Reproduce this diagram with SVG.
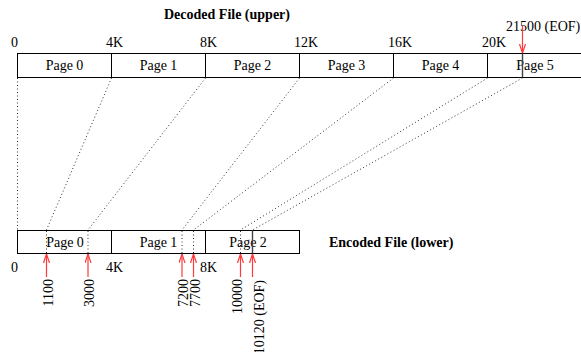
<svg xmlns="http://www.w3.org/2000/svg" width="581" height="352" viewBox="0 0 581 352">
  <style>
    text { font-family: "Liberation Serif", "Times New Roman", serif; font-size: 14px; fill: #000; }
    .title { font-weight: bold; }
    .mid { text-anchor: middle; }
    .box { fill: #fff; stroke: #000; stroke-width: 1; }
    .div { stroke: #000; stroke-width: 1; }
    .map { stroke: #000; stroke-width: 1; stroke-dasharray: 1 2.5; fill: none; opacity: 0.8; }
    .eof { stroke: #444; stroke-width: 1.4; }
    .ptr { stroke: #ff3a3a; stroke-width: 1.2; fill: none; marker-end: url(#head); }
  </style>
  <defs>
    <marker id="head" viewBox="0 0 9 7" refX="9" refY="3.5" markerWidth="9" markerHeight="7" markerUnits="userSpaceOnUse" orient="auto">
      <path d="M0,0.5 L9,3.5 L0,6.5" fill="none" stroke="#ff3a3a" stroke-width="1.2"/>
    </marker>
  </defs>

  <!-- Decoded (upper) file: six 4K pages -->
  <g id="decoded">
    <text class="title" x="164" y="19">Decoded File (upper)</text>
    <rect class="box" x="17.5" y="53.5" width="570" height="24"/>
    <line class="div" x1="111.5" y1="53.5" x2="111.5" y2="77.5"/>
    <line class="div" x1="205.5" y1="53.5" x2="205.5" y2="77.5"/>
    <line class="div" x1="299.5" y1="53.5" x2="299.5" y2="77.5"/>
    <line class="div" x1="393.5" y1="53.5" x2="393.5" y2="77.5"/>
    <line class="div" x1="487.5" y1="53.5" x2="487.5" y2="77.5"/>
    <text class="mid" x="64.5" y="70">Page 0</text>
    <text class="mid" x="158.5" y="70">Page 1</text>
    <text class="mid" x="252.5" y="70">Page 2</text>
    <text class="mid" x="346.5" y="70">Page 3</text>
    <text class="mid" x="440.5" y="70">Page 4</text>
    <text class="mid" x="535" y="70">Page 5</text>
    <text x="11" y="47">0</text>
    <text x="106" y="47">4K</text>
    <text x="200" y="47">8K</text>
    <text x="294" y="47">12K</text>
    <text x="388" y="47">16K</text>
    <text x="482" y="47">20K</text>
    <line class="eof" x1="522.5" y1="53.5" x2="522.5" y2="77.5"/>
    <text x="506" y="30.5">21500 (EOF)</text>
    <line class="ptr" x1="522.5" y1="26" x2="522.5" y2="53"/>
  </g>

  <!-- Encoded (lower) file: three 4K pages -->
  <g id="encoded">
    <text class="title" x="329" y="247">Encoded File (lower)</text>
    <rect class="box" x="17.5" y="230.5" width="282" height="23"/>
    <line class="div" x1="111.5" y1="230.5" x2="111.5" y2="253.5"/>
    <line class="div" x1="205.5" y1="230.5" x2="205.5" y2="253.5"/>
    <text class="mid" x="65" y="247">Page 0</text>
    <text class="mid" x="158.5" y="247">Page 1</text>
    <text class="mid" x="248" y="247">Page 2</text>
    <text x="11" y="272">0</text>
    <text x="106" y="272">4K</text>
    <text x="200" y="272">8K</text>
    <line class="eof" x1="252.5" y1="230.5" x2="252.5" y2="253.5"/>
  </g>

  <!-- Offset pointers into the encoded file -->
  <g id="offsets">
    <line class="ptr" x1="46.5" y1="277" x2="46.5" y2="254"/>
    <line class="ptr" x1="88" y1="277" x2="88" y2="254"/>
    <line class="ptr" x1="182" y1="277" x2="182" y2="254"/>
    <line class="ptr" x1="193.5" y1="277" x2="193.5" y2="254"/>
    <line class="ptr" x1="240.5" y1="277" x2="240.5" y2="254"/>
    <line class="ptr" x1="252.5" y1="277" x2="252.5" y2="254"/>
    <text text-anchor="end" transform="translate(53,279) rotate(-90)">1100</text>
    <text text-anchor="end" transform="translate(94,279) rotate(-90)">3000</text>
    <text text-anchor="end" transform="translate(188,279) rotate(-90)">7200</text>
    <text text-anchor="end" transform="translate(199.5,279) rotate(-90)">7700</text>
    <text text-anchor="end" transform="translate(241.5,279) rotate(-90)">10000</text>
    <text text-anchor="end" transform="translate(264,280) rotate(-90)">10120 (EOF)</text>
  </g>

  <!-- Page boundary mapping from decoded to encoded offsets -->
  <g id="connectors">
    <line class="map" x1="17.5" y1="78" x2="17.5" y2="230"/>
    <line class="map" x1="111.5" y1="78" x2="46.5" y2="230"/>
    <line class="map" x1="205.5" y1="78" x2="88" y2="230"/>
    <line class="map" x1="299.5" y1="78" x2="182" y2="230"/>
    <line class="map" x1="393.5" y1="78" x2="193.5" y2="230"/>
    <line class="map" x1="487.5" y1="78" x2="240.5" y2="230"/>
    <line class="map" x1="522.5" y1="78" x2="252.5" y2="230"/>
    <line class="map" x1="46.5" y1="231" x2="46.5" y2="253"/>
    <line class="map" x1="88" y1="231" x2="88" y2="253"/>
    <line class="map" x1="182" y1="231" x2="182" y2="253"/>
    <line class="map" x1="193.5" y1="231" x2="193.5" y2="253"/>
    <line class="map" x1="240.5" y1="231" x2="240.5" y2="253"/>
  </g>
</svg>
